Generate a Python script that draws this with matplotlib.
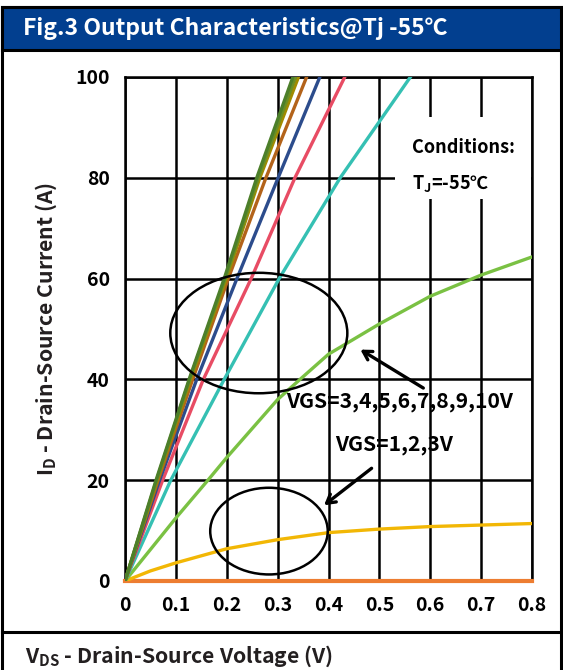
import numpy as np
import matplotlib.pyplot as plt
from matplotlib.patches import Ellipse, Rectangle

plt.rcParams['font.family'] = ['Noto Sans CJK SC', 'DejaVu Sans']
plt.rcParams['mathtext.fontset'] = 'custom'
plt.rcParams['mathtext.bf'] = 'Noto Sans CJK SC:bold'
plt.rcParams['mathtext.rm'] = 'Noto Sans CJK SC:bold'

# steep curves (VGS = 4..10 V): Vds read at fixed Id levels
id_steep = [0, 20, 40, 60, 80, 100]
vds_vgs10 = [0, 0.061, 0.126, 0.195, 0.259, 0.330]
vds_vgs9 = [0, 0.062, 0.127, 0.197, 0.262, 0.335]
vds_vgs8 = [0, 0.063, 0.129, 0.199, 0.265, 0.341]
vds_vgs7 = [0, 0.065, 0.133, 0.203, 0.277, 0.357]
vds_vgs6 = [0, 0.068, 0.141, 0.220, 0.301, 0.383]
vds_vgs5 = [0, 0.074, 0.154, 0.248, 0.334, 0.432]
vds_vgs4 = [0, 0.090, 0.195, 0.303, 0.423, 0.561]

# VGS = 3 V
vds_vgs3 = [0, 0.1, 0.163, 0.2, 0.3, 0.344, 0.4, 0.5, 0.6, 0.7, 0.8]
id_vgs3 = [0, 12.5, 20, 24.5, 36, 40, 45, 51, 56.5, 60.7, 64.3]

# VGS = 2 V
vds_vgs2 = [0, 0.05, 0.1, 0.2, 0.3, 0.4, 0.5, 0.6, 0.7, 0.8]
id_vgs2 = [0, 2.0, 3.6, 6.4, 8.2, 9.6, 10.3, 10.8, 11.1, 11.4]

# VGS = 1 V
vds_vgs1 = [0, 0.8]
id_vgs1 = [0, 0]

steep = [
    (vds_vgs4, '#35C0B3'),
    (vds_vgs5, '#E84C64'),
    (vds_vgs6, '#2C4C8C'),
    (vds_vgs7, '#B3631A'),
    (vds_vgs8, '#A08A00'),
    (vds_vgs9, '#6B8E23'),
    (vds_vgs10, '#4C7F2A'),
]

W, H = 563, 670
fig = plt.figure(figsize=(W / 100, H / 100), dpi=100)

def fy(py):
    return 1 - py / H

# frame, title bar and bottom divider
fig.patches.append(Rectangle((2 / W, -0.01), 1 - 4 / W, fy(7) + 0.01, transform=fig.transFigure,
                             fill=False, edgecolor='black', linewidth=2.2))
fig.patches.append(Rectangle((2 / W, fy(50)), 1 - 4 / W, 43 / H, transform=fig.transFigure,
                             facecolor='#023F8F', edgecolor='black', linewidth=2.2))
fig.lines.append(plt.Line2D([2 / W, 1 - 2 / W], [fy(632)] * 2, transform=fig.transFigure,
                            color='black', linewidth=2.2))
fig.text(23 / W, fy(29), 'Fig.3 Output Characteristics@Tj -55℃', color='white',
         fontsize=16.5, fontweight='bold', va='center', ha='left')
fig.text(25 / W, fy(656), r'V$_{\mathbf{DS}}$ - Drain-Source Voltage (V)', color='#231F20',
         fontsize=15.3, fontweight='bold', va='center', ha='left')

ax = fig.add_axes([125 / W, fy(581), 407 / W, 504 / H])

ax.plot(vds_vgs1, id_vgs1, color='#ED7D31', linewidth=3, zorder=3, clip_on=False)
ax.plot(vds_vgs2, id_vgs2, color='#F2B705', linewidth=2.4, zorder=3)
ax.plot(vds_vgs3, id_vgs3, color='#7AC143', linewidth=2.4, zorder=3)
for vds, c in steep:
    ax.plot(vds, id_steep, color=c, linewidth=2.4, zorder=3)

ax.set_xlim(0, 0.8)
ax.set_ylim(0, 100)
ax.set_xticks(np.arange(0, 0.81, 0.1))
ax.set_xticklabels(['0', '0.1', '0.2', '0.3', '0.4', '0.5', '0.6', '0.7', '0.8'])
ax.set_yticks(np.arange(0, 101, 20))
ax.grid(True, color='black', linewidth=1.8)
ax.tick_params(length=0, labelsize=14, pad=11)
for lab in ax.get_xticklabels() + ax.get_yticklabels():
    lab.set_fontweight('bold')
for s in ax.spines.values():
    s.set_linewidth(1.8)
ax.set_axisbelow(True)

ax.set_ylabel(r'I$_{\mathbf{D}}$ - Drain-Source Current (A)', fontsize=15.3, fontweight='bold',
              color='#231F20', labelpad=12)

# annotations
ax.add_patch(Ellipse((0.263, 49.2), 0.348, 23.9, fill=False, edgecolor='black', linewidth=1.8,
                     zorder=4))
ax.add_patch(Ellipse((0.283, 9.9), 0.231, 17.2, fill=False, edgecolor='black', linewidth=1.8,
                     zorder=4))
ax.annotate('', xy=(0.458, 46.2), xytext=(0.591, 38.0),
            arrowprops=dict(arrowstyle='->,head_length=0.6,head_width=0.35', color='black',
                            linewidth=2.4))
ax.annotate('', xy=(0.387, 14.7), xytext=(0.489, 22.7),
            arrowprops=dict(arrowstyle='->,head_length=0.6,head_width=0.35', color='black',
                            linewidth=2.4))
ax.text(0.317, 35.6, 'VGS=3,4,5,6,7,8,9,10V', fontsize=15.2, fontweight='bold', va='center',
        ha='left', zorder=5)
ax.text(0.413, 27.0, 'VGS=1,2,3V', fontsize=15.2, fontweight='bold', va='center', ha='left',
        zorder=5)
ax.add_patch(Rectangle((0.53, 75.8), 0.268, 16.2, facecolor='white', edgecolor='none', zorder=2))
ax.text(0.5635, 86.0, 'Conditions:', fontsize=13, fontweight='bold', va='center', ha='left',
        zorder=5)
ax.text(0.5635, 78.9, r'T$_{\mathbf{J}}$=-55℃', fontsize=13, fontweight='bold', va='center',
        ha='left', zorder=5)

fig.savefig('out.png', dpi=100)
